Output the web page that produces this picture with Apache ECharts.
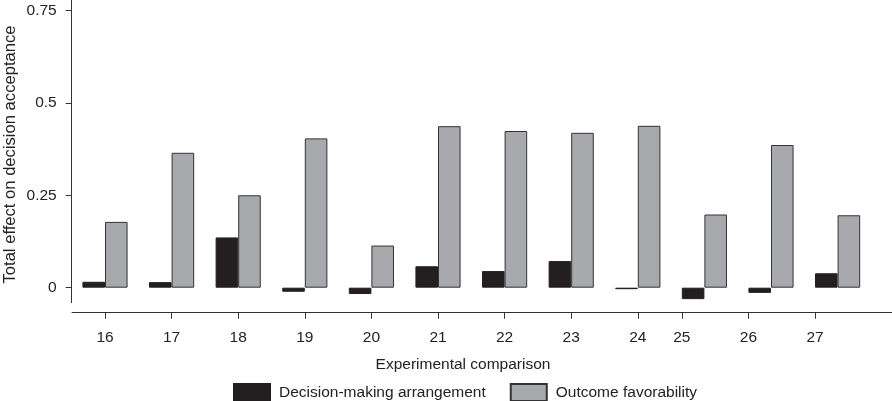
<!DOCTYPE html>
<html>
<head>
<meta charset="utf-8">
<script src="https://cdn.jsdelivr.net/npm/echarts@6/dist/echarts.min.js"></script>
<style>
html,body{margin:0;padding:0;background:#fff;}
#c{width:892px;height:401px;}
</style>
</head>
<body>
<div id="c"></div>
<script>
// ---- data ----
var categories = ['16','17','18','19','20','21','22','23','24','25','26','27'];
var decisionMaking = [0.016, 0.015, 0.136, -0.011, -0.017, 0.058, 0.045, 0.072, -0.004, -0.031, -0.014, 0.039];
var outcomeFavor = [0.178, 0.365, 0.250, 0.404, 0.114, 0.437, 0.424, 0.419, 0.438, 0.198, 0.386, 0.196];
var yTickValues = [0, 0.25, 0.5, 0.75];
// tick labels drawn at the left edge of the first bar instead of the pair centre
var leftShiftedLabels = ['25','26','27'];

// ---- layout ----
var FONT = 'Liberation Sans, Arial, Helvetica, sans-serif';
var FS = 15.5;
var W = 892;
var barLeft = 71.7, bandPx = 66.6;
var barRight = W - barLeft - bandPx * categories.length;
var barFrac = 0.339;
var axisLeft = 72, axisRight = 0;
var tickMin = (axisLeft - barLeft) / bandPx;
var tickMax = (W - axisRight - barLeft) / bandPx;

var tickPos = categories.map(function (c, i) {
  return +(i + 0.5 - (leftShiftedLabels.indexOf(c) >= 0 ? barFrac : 0)).toFixed(4);
});
var posLabel = {};
tickPos.forEach(function (p, i) { posLabel[p.toFixed(4)] = categories[i]; });

var chart = echarts.init(document.getElementById('c'), null, {renderer: 'canvas'});
chart.setOption({
  backgroundColor: '#fff',
  animation: false,
  textStyle: {fontFamily: FONT},
  grid: [
    {left: barLeft, right: barRight, top: 0, bottom: 401 - 302.7, containLabel: false, outerBoundsMode: 'none'},
    {left: axisLeft, right: axisRight, top: 0, bottom: 401 - 312.7, containLabel: false, outerBoundsMode: 'none'}
  ],
  xAxis: [
    {type: 'category', gridIndex: 0, data: categories, show: false},
    {
      type: 'value', gridIndex: 1, min: tickMin, max: tickMax, position: 'bottom',
      splitLine: {show: false},
      axisLine: {show: true, onZero: false, lineStyle: {color: '#333', width: 1}},
      axisTick: {show: true, length: 6, customValues: tickPos, lineStyle: {color: '#333', width: 1}},
      axisLabel: {
        show: true, customValues: tickPos, margin: 17,
        color: '#222', fontSize: FS, fontFamily: FONT,
        formatter: function (v) { return posLabel[(+v).toFixed(4)] || ''; }
      }
    }
  ],
  yAxis: [
    {
      type: 'value', gridIndex: 0, min: -0.0406, max: 0.7784,
      splitLine: {show: false},
      axisLine: {show: true, lineStyle: {color: '#333', width: 1}},
      axisTick: {show: true, length: 6, customValues: yTickValues, lineStyle: {color: '#333', width: 1}},
      axisLabel: {
        show: true, customValues: yTickValues, margin: 15,
        color: '#222', fontSize: FS, fontFamily: FONT
      }
    },
    {type: 'value', gridIndex: 1, show: false, min: 0, max: 1}
  ],
  legend: {
    left: 233, top: 383, padding: 0,
    itemWidth: 36, itemHeight: 17, itemGap: 24,
    icon: 'rect',
    textStyle: {color: '#222', fontSize: FS, fontFamily: FONT, padding: [0, 0, 0, 4]},
    data: ['Decision-making arrangement', 'Outcome favorability']
  },
  graphic: [{
    type: 'text', x: 463, y: 365,
    style: {text: 'Experimental comparison', fill: '#222', font: FS + 'px ' + FONT,
      textAlign: 'center', textVerticalAlign: 'middle'}
  }, {
    type: 'text', x: 10, y: 154.5, rotation: Math.PI / 2,
    style: {text: 'Total effect on decision acceptance', fill: '#222', font: '16.6px ' + FONT,
      textAlign: 'center', textVerticalAlign: 'middle'}
  }],
  series: [
    {
      name: 'Decision-making arrangement', type: 'bar', xAxisIndex: 0, yAxisIndex: 0,
      data: decisionMaking, barWidth: (barFrac * 100) + '%', barGap: '0%',
      itemStyle: {color: '#231f20', borderColor: '#231f20', borderWidth: 1}
    },
    {
      name: 'Outcome favorability', type: 'bar', xAxisIndex: 0, yAxisIndex: 0,
      data: outcomeFavor, barWidth: (barFrac * 100) + '%', barGap: '0%',
      itemStyle: {color: '#a8a9ac', borderColor: '#333', borderWidth: 1}
    },
    {
      type: 'line', xAxisIndex: 1, yAxisIndex: 1, data: [], silent: true, legendHoverLink: false
    }
  ]
});
</script>
</body>
</html>
